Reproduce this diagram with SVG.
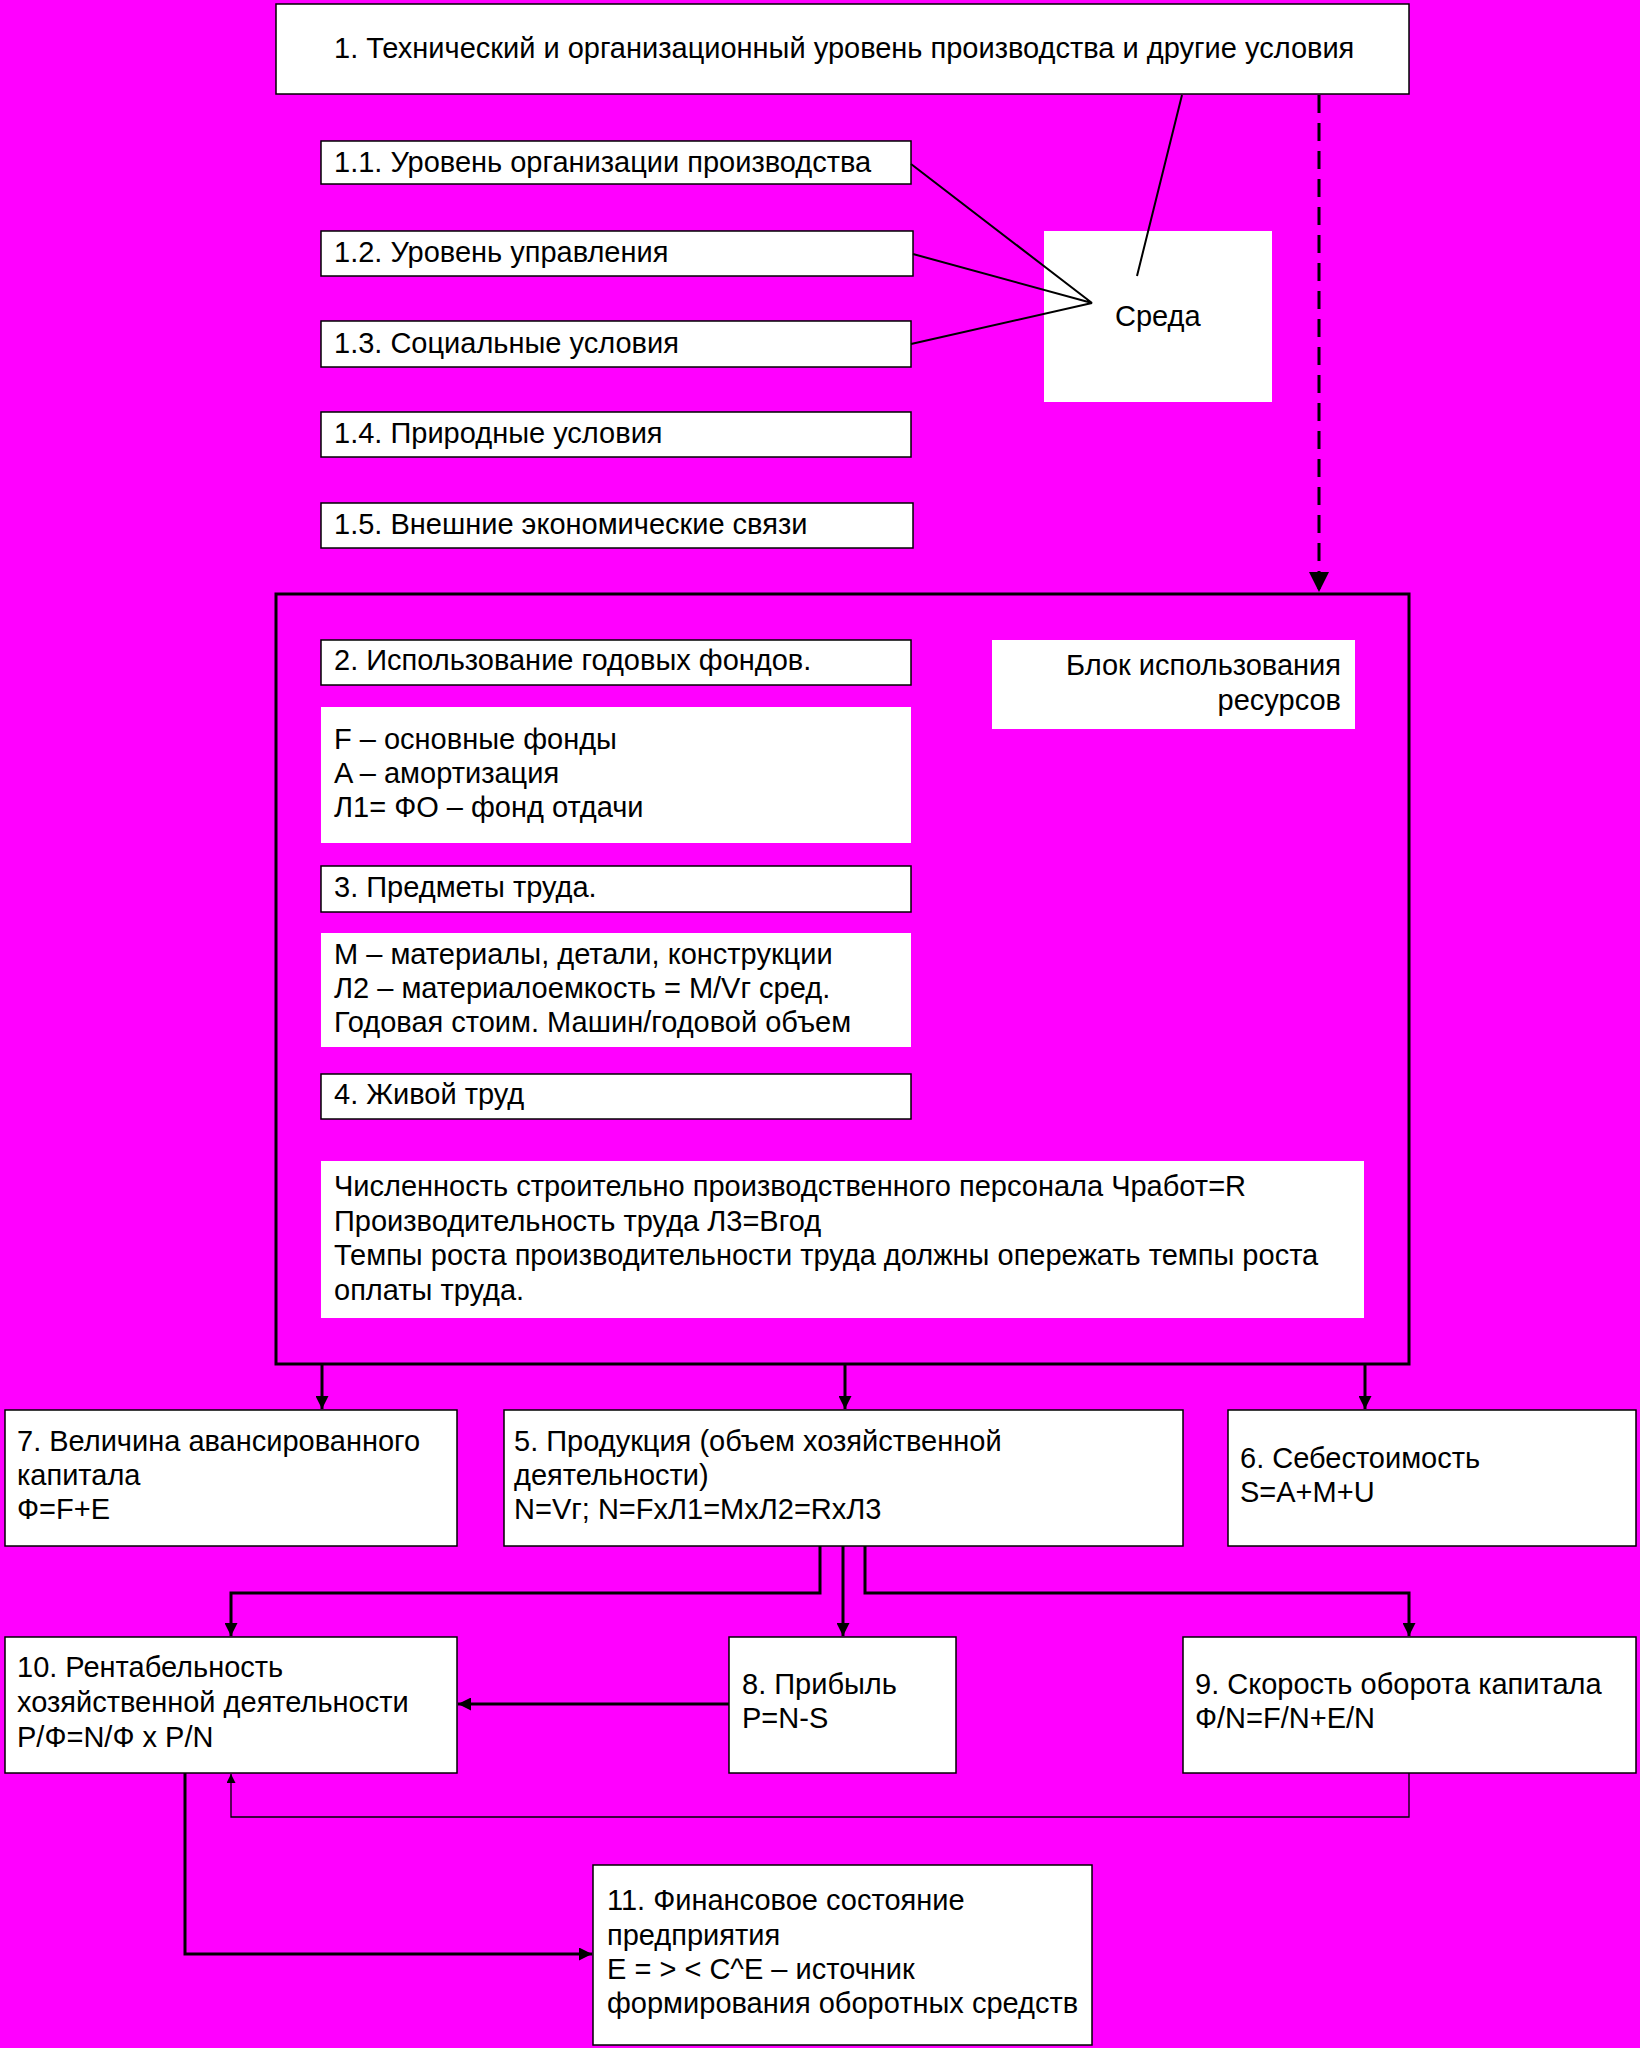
<svg xmlns="http://www.w3.org/2000/svg" width="1640" height="2048" viewBox="0 0 1640 2048">
<defs>
<style>
.box{fill:#fff;stroke:#000;stroke-width:1.5}
.nb{fill:#fff;stroke:none}
text{font-family:"Liberation Sans",Arial,sans-serif;font-size:29px;fill:#000}
.c{fill:none;stroke:#000;stroke-width:3}
.t{fill:none;stroke:#000;stroke-width:1.3}
.s{fill:none;stroke:#000;stroke-width:2}
</style>
<marker id="a" viewBox="0 0 10 10" refX="10" refY="5" markerUnits="userSpaceOnUse" markerWidth="13" markerHeight="13" orient="auto"><path d="M0,0 L10,5 L0,10 z" fill="#000"/></marker>
<marker id="ab" viewBox="0 0 10 10" refX="10" refY="5" markerUnits="userSpaceOnUse" markerWidth="20" markerHeight="20" orient="auto"><path d="M0,0 L10,5 L0,10 z" fill="#000"/></marker>
<marker id="as" viewBox="0 0 10 10" refX="10" refY="5" markerUnits="userSpaceOnUse" markerWidth="10" markerHeight="9" orient="auto"><path d="M0,0 L10,5 L0,10 z" fill="#000"/></marker>
</defs>
<rect width="1640" height="2048" fill="#FF00FF"/>

<g id="n1"><rect class="box" x="276" y="4" width="1133" height="90"/><text x="334" y="58">1. Технический и организационный уровень производства и другие условия</text></g>
<g id="n1_1"><rect class="box" x="321" y="141" width="590" height="43"/><text x="334" y="172">1.1. Уровень организации производства</text></g>
<g id="n1_2"><rect class="box" x="321" y="231" width="592" height="45"/><text x="334" y="262">1.2. Уровень управления</text></g>
<g id="n1_3"><rect class="box" x="321" y="321" width="590" height="46"/><text x="334" y="353">1.3. Социальные условия</text></g>
<g id="n1_4"><rect class="box" x="321" y="412" width="590" height="45"/><text x="334" y="443">1.4. Природные условия</text></g>
<g id="n1_5"><rect class="box" x="321" y="503" width="592" height="45"/><text x="334" y="534">1.5. Внешние экономические связи</text></g>
<g id="sreda"><rect class="nb" x="1044" y="231" width="228" height="171"/><text x="1115" y="326">Среда</text></g>

<g id="block"><rect x="276" y="594" width="1133" height="770" fill="none" stroke="#000" stroke-width="3"/></g>
<g id="n2"><rect class="box" x="321" y="640" width="590" height="45"/><text x="334" y="670">2. Использование годовых фондов.</text></g>
<g id="n2d"><rect class="nb" x="321" y="707" width="590" height="136"/><text x="334" y="749">F – основные фонды</text><text x="334" y="783">A – амортизация</text><text x="334" y="817">Л1= ФО – фонд отдачи</text></g>
<g id="n3"><rect class="box" x="321" y="866" width="590" height="46"/><text x="334" y="897">3. Предметы труда.</text></g>
<g id="n3d"><rect class="nb" x="321" y="933" width="590" height="114"/><text x="334" y="964">M – материалы, детали, конструкции</text><text x="334" y="998">Л2 – материалоемкость = M/Vг сред.</text><text x="334" y="1032">Годовая стоим. Машин/годовой объем</text></g>
<g id="n4"><rect class="box" x="321" y="1074" width="590" height="45"/><text x="334" y="1104">4. Живой труд</text></g>
<g id="n4d"><rect class="nb" x="321" y="1161" width="1043" height="157"/><text x="334" y="1196">Численность строительно производственного персонала Чработ=R</text><text x="334" y="1231">Производительность труда Л3=Вгод</text><text x="334" y="1265">Темпы роста производительности труда должны опережать темпы роста</text><text x="334" y="1300">оплаты труда.</text></g>
<g id="blk"><rect class="nb" x="992" y="640" width="363" height="89"/><text x="1341" y="675" text-anchor="end">Блок использования</text><text x="1341" y="710" text-anchor="end">ресурсов</text></g>

<g id="n7"><rect class="box" x="5" y="1410" width="452" height="136"/><text x="17" y="1451">7. Величина авансированного</text><text x="17" y="1485">капитала</text><text x="17" y="1519">Ф=F+E</text></g>
<g id="n5"><rect class="box" x="504" y="1410" width="679" height="136"/><text x="514" y="1451">5. Продукция (объем хозяйственной</text><text x="514" y="1485">деятельности)</text><text x="514" y="1519">N=Vг; N=FxЛ1=MxЛ2=RxЛ3</text></g>
<g id="n6"><rect class="box" x="1228" y="1410" width="408" height="136"/><text x="1240" y="1468">6. Себестоимость</text><text x="1240" y="1502">S=A+M+U</text></g>
<g id="n10"><rect class="box" x="5" y="1637" width="452" height="136"/><text x="17" y="1677">10. Рентабельность</text><text x="17" y="1712">хозяйственной деятельности</text><text x="17" y="1747">P/Ф=N/Ф x P/N</text></g>
<g id="n8"><rect class="box" x="729" y="1637" width="227" height="136"/><text x="742" y="1694">8. Прибыль</text><text x="742" y="1728">P=N-S</text></g>
<g id="n9"><rect class="box" x="1183" y="1637" width="453" height="136"/><text x="1195" y="1694">9. Скорость оборота капитала</text><text x="1195" y="1728">Ф/N=F/N+E/N</text></g>
<g id="n11"><rect class="box" x="593" y="1865" width="499" height="180"/><text x="607" y="1910">11. Финансовое состояние</text><text x="607" y="1945">предприятия</text><text x="607" y="1979">E = &gt; &lt; C^E – источник</text><text x="607" y="2013">формирования оборотных средств</text></g>

<g id="connectors">
<path class="s" d="M911,164 L1092,303 M913,254 L1092,303 L911,344 M1182,95 L1137,276"/>
<path d="M1319,95 L1319,592" fill="none" stroke="#000" stroke-width="3" stroke-dasharray="18,10" marker-end="url(#ab)"/>
<path class="c" d="M322,1364 L322,1409" marker-end="url(#a)"/>
<path class="c" d="M845,1364 L845,1409" marker-end="url(#a)"/>
<path class="c" d="M1365,1364 L1365,1409" marker-end="url(#a)"/>
<path class="c" d="M820,1546 L820,1593 L231,1593 L231,1636" marker-end="url(#a)"/>
<path class="c" d="M843,1546 L843,1636" marker-end="url(#a)"/>
<path class="c" d="M865,1546 L865,1593 L1409,1593 L1409,1636" marker-end="url(#a)"/>
<path class="c" d="M729,1704 L458,1704" marker-end="url(#a)"/>
<path class="t" d="M1409,1773 L1409,1817 L231,1817 L231,1774" marker-end="url(#as)"/>
<path class="c" d="M185,1773 L185,1954 L592,1954" marker-end="url(#a)"/>
</g>
</svg>
